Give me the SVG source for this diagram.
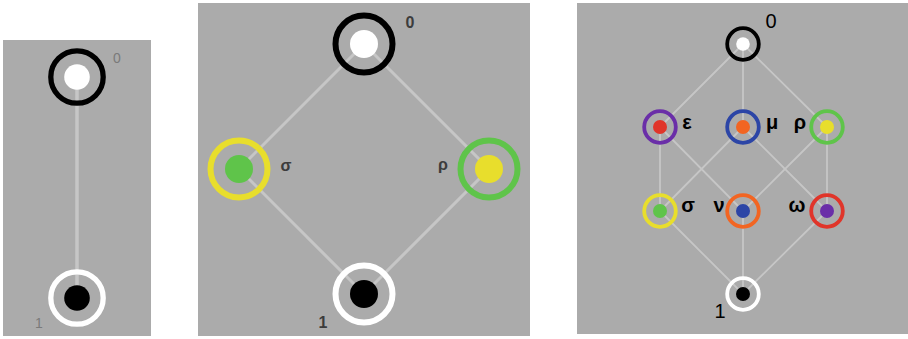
<svg xmlns="http://www.w3.org/2000/svg" width="908" height="339" viewBox="0 0 908 339">
<style>
.bg{fill:#ababab}
.e1{stroke:#c6c6c6;stroke-width:3.5;fill:none}
.e2{stroke:#c6c6c6;stroke-width:3;fill:none}
.e3{stroke:#c6c6c6;stroke-width:1.8;fill:none}
.rA{fill:none;stroke-width:5.3}
.rB{fill:none;stroke-width:6}
.rC{fill:none;stroke-width:3.8}
text{font-family:"Liberation Sans",Arial,sans-serif;text-anchor:middle}
.tA{font-size:14px;fill:#7a7a7a}
.tB{font-size:16px;fill:#3c3c3c;font-weight:bold}
.tC{font-size:20px;fill:#000;font-weight:bold}
.tD{font-size:20px;fill:#000}
</style>
<rect class="bg" x="3" y="40" width="148" height="296"/>
<rect class="bg" x="198" y="3" width="332" height="333"/>
<rect class="bg" x="577" y="3" width="331" height="331"/>
<g id="connectors">
<line class="e1" x1="77" y1="77" x2="77" y2="298"/>
<path class="e2" d="M364 44L239 169L364 294L489 169Z"/>
<path class="e3" d="M743 44L660 127M743 44L743 127M743 44L827 127M660 127L660 211M660 127L743 211M743 127L660 211M743 127L827 211M827 127L743 211M827 127L827 211M660 211L743 294M743 211L743 294M827 211L743 294"/>
</g>
<g id="a0"><circle class="rA" cx="77" cy="77" r="26.2" stroke="#000"/><circle cx="77" cy="77" r="12.8" fill="#fff"/><text class="tA" x="117" y="63">0</text></g>
<g id="a1"><circle class="rA" cx="77" cy="298" r="26.2" stroke="#fff"/><circle cx="77" cy="298" r="12.8" fill="#000"/><text class="tA" x="39" y="328">1</text></g>
<g id="b0"><circle class="rB" cx="364" cy="44" r="28.5" stroke="#000"/><circle cx="364" cy="44" r="14" fill="#fff"/><text class="tB" x="410" y="28">0</text></g>
<g id="bsigma"><circle class="rB" cx="239" cy="169" r="28.5" stroke="#e8de2c"/><circle cx="239" cy="169" r="14" fill="#5fc44a"/><text class="tB" x="286" y="171">σ</text></g>
<g id="brho"><circle class="rB" cx="489" cy="169" r="28.5" stroke="#5fc44a"/><circle cx="489" cy="169" r="14" fill="#e8de2c"/><text class="tB" x="443" y="170">ρ</text></g>
<g id="b1"><circle class="rB" cx="364" cy="294" r="28.5" stroke="#fff"/><circle cx="364" cy="294" r="14" fill="#000"/><text class="tB" x="323" y="328">1</text></g>
<g id="c0"><circle class="rC" cx="743" cy="44" r="15.8" stroke="#000"/><circle cx="743" cy="44" r="6.8" fill="#fff"/><text class="tD" x="771" y="28">0</text></g>
<g id="ceps"><circle class="rC" cx="660" cy="127" r="15.8" stroke="#6a2ea8"/><circle cx="660" cy="127" r="7" fill="#e0352a"/><text class="tC" x="687" y="129">ε</text></g>
<g id="cmu"><circle class="rC" cx="743" cy="127" r="15.8" stroke="#2c45a6"/><circle cx="743" cy="127" r="7" fill="#f26522"/><text class="tC" x="772" y="129">μ</text></g>
<g id="crho"><circle class="rC" cx="827" cy="127" r="15.8" stroke="#5fc44a"/><circle cx="827" cy="127" r="7" fill="#e8de2c"/><text class="tC" x="800" y="129">ρ</text></g>
<g id="csigma"><circle class="rC" cx="660" cy="211" r="15.8" stroke="#e8de2c"/><circle cx="660" cy="211" r="7" fill="#5fc44a"/><text class="tC" x="688" y="212">σ</text></g>
<g id="cnu"><circle class="rC" cx="743" cy="211" r="15.8" stroke="#f26522"/><circle cx="743" cy="211" r="7" fill="#2c45a6"/><text class="tC" x="719" y="212">ν</text></g>
<g id="comega"><circle class="rC" cx="827" cy="211" r="15.8" stroke="#e0352a"/><circle cx="827" cy="211" r="7" fill="#6a2ea8"/><text class="tC" x="797" y="212">ω</text></g>
<g id="c1"><circle class="rC" cx="743" cy="294" r="15.8" stroke="#fff"/><circle cx="743" cy="294" r="7" fill="#000"/><text class="tD" x="720" y="318">1</text></g>
</svg>
